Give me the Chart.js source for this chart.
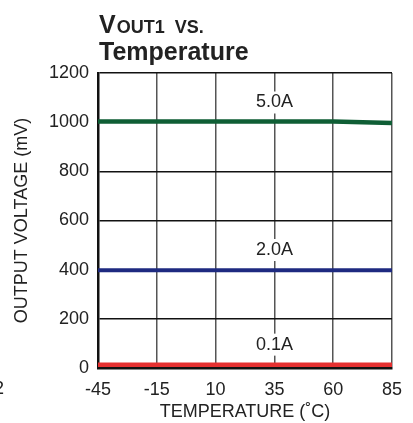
<!DOCTYPE html>
<html>
<head>
<meta charset="utf-8">
<script src="https://cdn.jsdelivr.net/npm/chart.js@4/dist/chart.umd.min.js"></script>
<style>
  html, body { margin: 0; padding: 0; background: #fff; }
  #wrap { width: 413px; height: 423px; }
</style>
</head>
<body>
<div id="wrap"><canvas id="chart" width="413" height="423"></canvas></div>
<script>
const temps = ["-45", "-15", "10", "35", "60", "85"];
const vout5A = [1003, 1003, 1003, 1003, 1003, 997];
const vout2A = [398, 398, 398, 398, 398, 398];
const vout01A = [13, 13, 13, 13, 13, 13];
const curveLabels = ["5.0A", "2.0A", "0.1A"];
const labelValues = [1080, 480, 95];

const FONT = "'Liberation Sans', Arial, sans-serif";

// title with small caps + curve labels over the grid
const extras = {
  id: "extras",
  afterDatasetsDraw(chart) {
    const ctx = chart.ctx;
    const x = chart.scales.x, y = chart.scales.y;
    ctx.save();
    ctx.font = "18px " + FONT;
    ctx.textAlign = "center";
    ctx.textBaseline = "middle";
    curveLabels.forEach((t, i) => {
      const cx = x.getPixelForValue(3);
      const cy = y.getPixelForValue(labelValues[i]);
      const w = ctx.measureText(t).width;
      ctx.fillStyle = "#fff";
      ctx.fillRect(cx - w / 2 - 2, cy - 11, w + 4, 22);
      ctx.fillStyle = "#222";
      ctx.fillText(t, cx, cy);
    });
    ctx.restore();
  },
  afterDraw(chart) {
    const ctx = chart.ctx;
    ctx.save();
    ctx.fillStyle = "#222";
    ctx.textAlign = "left";
    ctx.textBaseline = "alphabetic";
    let px = 99;
    ctx.font = "bold 25px " + FONT;
    ctx.fillText("V", px, 33);
    px += ctx.measureText("V").width + 1;
    ctx.font = "bold 18px " + FONT;
    ctx.fillText("OUT1  VS.", px, 33);
    ctx.font = "bold 25px " + FONT;
    ctx.fillText("Temperature", 99, 60);
    ctx.font = "18px " + FONT;
    ctx.fillText("2", -6, 394);
    ctx.restore();
  }
};

new Chart(document.getElementById("chart"), {
  type: "line",
  data: {
    labels: temps,
    datasets: [
      { data: vout5A, borderColor: "#0f5e35", borderWidth: 4.5 },
      { data: vout2A, borderColor: "#1e2a80", borderWidth: 4 },
      { data: vout01A, borderColor: "#e53030", borderWidth: 4.5 }
    ]
  },
  options: {
    responsive: false,
    animation: false,
    layout: { padding: { top: 73, right: 18, left: 0, bottom: 0 } },
    elements: { point: { radius: 0 }, line: { tension: 0 } },
    plugins: { legend: { display: false }, tooltip: { enabled: false } },
    scales: {
      x: {
        offset: false,
        afterFit: (s) => { s.height = 55; },
        grid: { color: "#555", lineWidth: 1.5, drawTicks: false },
        border: { color: "#111", width: 2.5 },
        ticks: { color: "#222", font: { family: FONT, size: 18 }, padding: 11, maxRotation: 0 },
        title: { display: true, text: "TEMPERATURE (˚C)", color: "#222",
                 font: { family: FONT, size: 18 }, padding: { top: 0, bottom: 0 } }
      },
      y: {
        min: 0, max: 1200,
        afterFit: (s) => { s.width = 98; },
        grid: { color: "#111", lineWidth: 1.5, drawTicks: false },
        border: { color: "#111", width: 2.5 },
        ticks: { stepSize: 200, color: "#222", font: { family: FONT, size: 18 }, padding: 9,
                 callback: (v) => String(v) },
        title: { display: true, text: "OUTPUT VOLTAGE (mV)", color: "#222",
                 font: { family: FONT, size: 18 }, padding: { top: 11, bottom: 0 } }
      }
    }
  },
  plugins: [extras]
});
</script>
</body>
</html>
